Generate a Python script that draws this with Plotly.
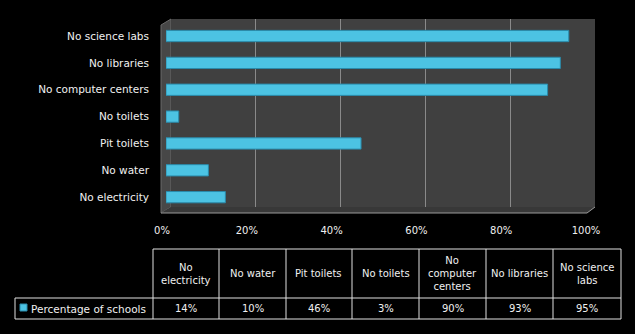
import plotly.graph_objects as go

# ---- data ----
categories = ["No electricity", "No water", "Pit toilets", "No toilets",
              "No computer centers", "No libraries", "No science labs"]
values = [14, 10, 46, 3, 90, 93, 95]
series_name = "Percentage of schools"
table_headers = ["No<br>electricity", "No water", "Pit toilets", "No toilets",
                 "No<br>computer<br>centers", "No libraries", "No science<br>labs"]
tick_vals = [0, 20, 40, 60, 80, 100]
tick_labels = ["0%", "20%", "40%", "60%", "80%", "100%"]

W, H = 635, 334
def px(x): return x / W
def py(y): return 1 - y / H

FONT = "DejaVu Sans"
TXT = "#f0f0f0"
BAR = "#4cc3e3"
BAR_EDGE = "#2a8bab"

fig = go.Figure()

# invisible trace to create the wall subplot (x/y)
fig.add_trace(go.Scatter(x=[None], y=[None], xaxis="x", yaxis="y",
                         showlegend=False, hoverinfo="skip"))

# bars on subplot x2/y2 (drawn above wall gridlines)
fig.add_trace(go.Bar(
    x=values, y=categories, orientation="h", xaxis="x2", yaxis="y2",
    marker=dict(color=BAR, line=dict(color=BAR_EDGE, width=1)),
    width=0.42, showlegend=False, name=series_name,
))

shapes = []
# left side wall
shapes.append(dict(type="path", xref="paper", yref="paper", layer="below",
                   path=f"M {px(161)} {py(25)} L {px(171)} {py(19)} L {px(171)} {py(207)} L {px(161)} {py(213)} Z",
                   fillcolor="#474747", line=dict(color="#6a6a6a", width=1)))
# back wall
shapes.append(dict(type="rect", xref="paper", yref="paper", layer="below",
                   x0=px(171), x1=px(595), y0=py(207), y1=py(19),
                   fillcolor="#404040", line=dict(width=0)))
# floor
shapes.append(dict(type="path", xref="paper", yref="paper", layer="below",
                   path=f"M {px(161)} {py(213)} L {px(171)} {py(207)} L {px(595)} {py(207)} L {px(587)} {py(213)} Z",
                   fillcolor="#383838", line=dict(color="#3a3a3a", width=0)))
shapes.append(dict(type="line", xref="paper", yref="paper", layer="below",
                   x0=px(161), x1=px(587), y0=py(213), y1=py(213),
                   line=dict(color="#9a9a9a", width=1)))
shapes.append(dict(type="line", xref="paper", yref="paper", layer="below",
                   x0=px(587), x1=px(595), y0=py(213), y1=py(207),
                   line=dict(color="#9a9a9a", width=1)))

# ---- data table ----
col_edges = [153, 219, 286, 352, 419, 486, 553, 621]
t_top, t_mid, t_bot = 249, 298, 319
leg_left = 15
LC = "#e0e0e0"
def hline(x0, x1, y):
    shapes.append(dict(type="line", xref="paper", yref="paper", x0=px(x0), x1=px(x1),
                       y0=py(y), y1=py(y), line=dict(color=LC, width=1)))
def vline(x, y0, y1):
    shapes.append(dict(type="line", xref="paper", yref="paper", x0=px(x), x1=px(x),
                       y0=py(y0), y1=py(y1), line=dict(color=LC, width=1)))
hline(col_edges[0], col_edges[-1], t_top)
hline(leg_left, col_edges[-1], t_mid)
hline(leg_left, col_edges[-1], t_bot)
for x in col_edges:
    vline(x, t_top, t_bot)
vline(leg_left, t_mid, t_bot)

# legend swatch
shapes.append(dict(type="rect", xref="paper", yref="paper",
                   x0=px(20), x1=px(27), y0=py(311), y1=py(304),
                   fillcolor=BAR, line=dict(color=BAR_EDGE, width=1)))

annotations = []
for i, (h, v) in enumerate(zip(table_headers, values)):
    cx = (col_edges[i] + col_edges[i + 1]) / 2
    annotations.append(dict(xref="paper", yref="paper", x=px(cx), y=py((t_top + t_mid) / 2),
                            text=h, showarrow=False, xanchor="center", yanchor="middle",
                            font=dict(family=FONT, size=10, color=TXT)))
    annotations.append(dict(xref="paper", yref="paper", x=px(cx), y=py((t_mid + t_bot) / 2),
                            text=f"{v}%", showarrow=False, xanchor="center", yanchor="middle",
                            font=dict(family=FONT, size=10, color=TXT)))
annotations.append(dict(xref="paper", yref="paper", x=px(29), y=py((t_mid + t_bot) / 2),
                        text=series_name, showarrow=False, xanchor="left", yanchor="middle",
                        font=dict(family=FONT, size=10.5, color=TXT)))

fig.update_layout(
    width=W, height=H, margin=dict(l=0, r=0, t=0, b=0, pad=0, autoexpand=False),
    paper_bgcolor="#000000", plot_bgcolor="rgba(0,0,0,0)",
    font=dict(family=FONT, size=10, color=TXT), showlegend=False,
    xaxis=dict(domain=[px(171), px(595)], range=[0, 100], anchor="y",
               tickvals=tick_vals, showticklabels=False, showgrid=True, automargin=False,
               gridcolor="#8a8a8a", gridwidth=1, zeroline=False, showline=False, fixedrange=True),
    yaxis=dict(domain=[py(207), py(19)], range=[0, 1], anchor="x", automargin=False,
               showgrid=False, showticklabels=False, zeroline=False, showline=False, fixedrange=True),
    xaxis2=dict(domain=[px(166), px(590)], range=[0, 100], anchor="y2", automargin=False,
                tickvals=tick_vals, ticktext=tick_labels, ticks="",
                showgrid=False, zeroline=False, showline=False,
                ticklabelshift=-4, ticklabelstandoff=12,
                tickfont=dict(family=FONT, size=10, color=TXT), fixedrange=True),
    yaxis2=dict(domain=[py(210.6), py(22.6)], anchor="x2", type="category", automargin=False,
                categoryorder="array", categoryarray=categories,
                ticks="", showgrid=False, zeroline=False, showline=False,
                ticklabelstandoff=16,
                tickfont=dict(family=FONT, size=10.5, color=TXT), fixedrange=True),
    shapes=shapes, annotations=annotations, bargap=0.58,
)

fig.write_html("out.html")
